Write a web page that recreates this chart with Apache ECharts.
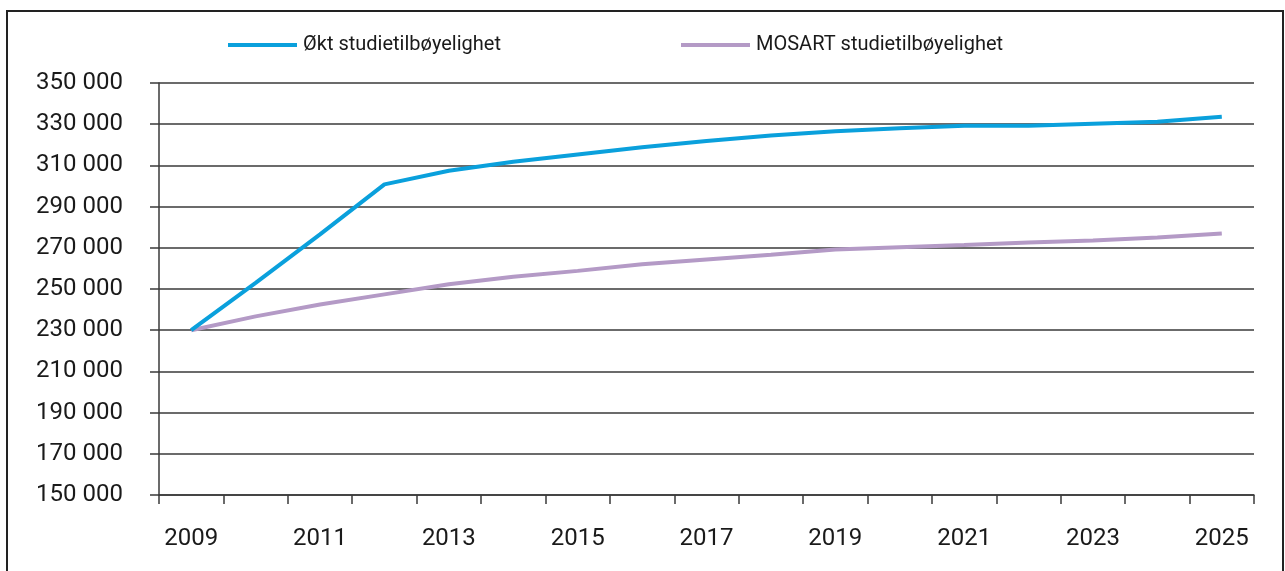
<!DOCTYPE html>
<html>
<head>
<meta charset="utf-8">
<script src="https://cdn.jsdelivr.net/npm/echarts@6/dist/echarts.min.js"></script>
<style>
  html, body { margin: 0; padding: 0; background: #fff; }
  #chart { width: 1285px; height: 571px; }
</style>
</head>
<body>
<div id="chart"></div>
<script>
var years = ['2009', '2010', '2011', '2012', '2013', '2014', '2015', '2016', '2017',
    '2018', '2019', '2020', '2021', '2022', '2023', '2024', '2025'];

var oktStudie = [230000, 253000, 276500, 300800, 307400, 311800, 315300, 318800, 321900,
    324500, 326600, 328000, 329200, 329200, 330200, 331200, 333600];

var mosartStudie = [230000, 236700, 242500, 247400, 252300, 256000, 258800, 262000, 264300,
    266600, 269200, 270300, 271400, 272600, 273600, 275000, 277000];

var seriesNames = ['Økt studietilbøyelighet', 'MOSART studietilbøyelighet'];

var font = 'Roboto';
var gridColor = '#3a3a3a';

function thousands(v) {
    return String(v).replace(/\B(?=(\d{3})+(?!\d))/g, ' ');
}

var chart = echarts.init(document.getElementById('chart'));

var option = {
    backgroundColor: '#fff',
    animation: false,
    textStyle: { fontFamily: font },
    graphic: [{
        type: 'rect',
        shape: { x: 7, y: 11, width: 1276, height: 600 },
        style: { fill: 'none', stroke: '#222', lineWidth: 2 },
        silent: true
    }],
    legend: [{
        data: [seriesNames[0]],
        left: 223,
        top: 30,
        icon: 'rect',
        itemWidth: 69,
        itemHeight: 4,
        textStyle: { fontFamily: font, fontSize: 20, color: '#1a1a1a', padding: [0, 0, 0, 1] }
    }, {
        data: [seriesNames[1]],
        left: 676,
        top: 30,
        icon: 'rect',
        itemWidth: 69,
        itemHeight: 4,
        textStyle: { fontFamily: font, fontSize: 20, color: '#1a1a1a', padding: [0, 0, 0, 1] }
    }],
    grid: {
        left: 159,
        right: 31,
        top: 83,
        bottom: 76
    },
    xAxis: {
        type: 'category',
        data: years,
        boundaryGap: true,
        axisLine: { show: true, lineStyle: { color: gridColor, width: 1.5 } },
        axisTick: { show: true, interval: 0, length: 9, lineStyle: { color: gridColor, width: 1.5 } },
        axisLabel: {
            interval: 1,
            margin: 32,
            fontSize: 24,
            color: '#1a1a1a',
            fontFamily: font
        },
        splitLine: { show: false }
    },
    yAxis: {
        type: 'value',
        min: 150000,
        max: 350000,
        interval: 20000,
        axisLine: { show: true, lineStyle: { color: gridColor, width: 1.5 } },
        axisTick: { show: true, length: 9, lineStyle: { color: gridColor, width: 1.5 } },
        axisLabel: {
            margin: 36,
            fontSize: 24,
            color: '#1a1a1a',
            fontFamily: font,
            formatter: thousands
        },
        splitLine: { show: true, lineStyle: { color: gridColor, width: 1.5 } }
    },
    series: [{
        name: seriesNames[0],
        type: 'line',
        data: oktStudie,
        symbol: 'none',
        color: '#0aa0dc',
        lineStyle: { width: 4, color: '#0aa0dc' },
        z: 3
    }, {
        name: seriesNames[1],
        type: 'line',
        data: mosartStudie,
        symbol: 'none',
        color: '#b49ac6',
        lineStyle: { width: 4, color: '#b49ac6' },
        z: 2
    }]
};

chart.setOption(option);
</script>
</body>
</html>
